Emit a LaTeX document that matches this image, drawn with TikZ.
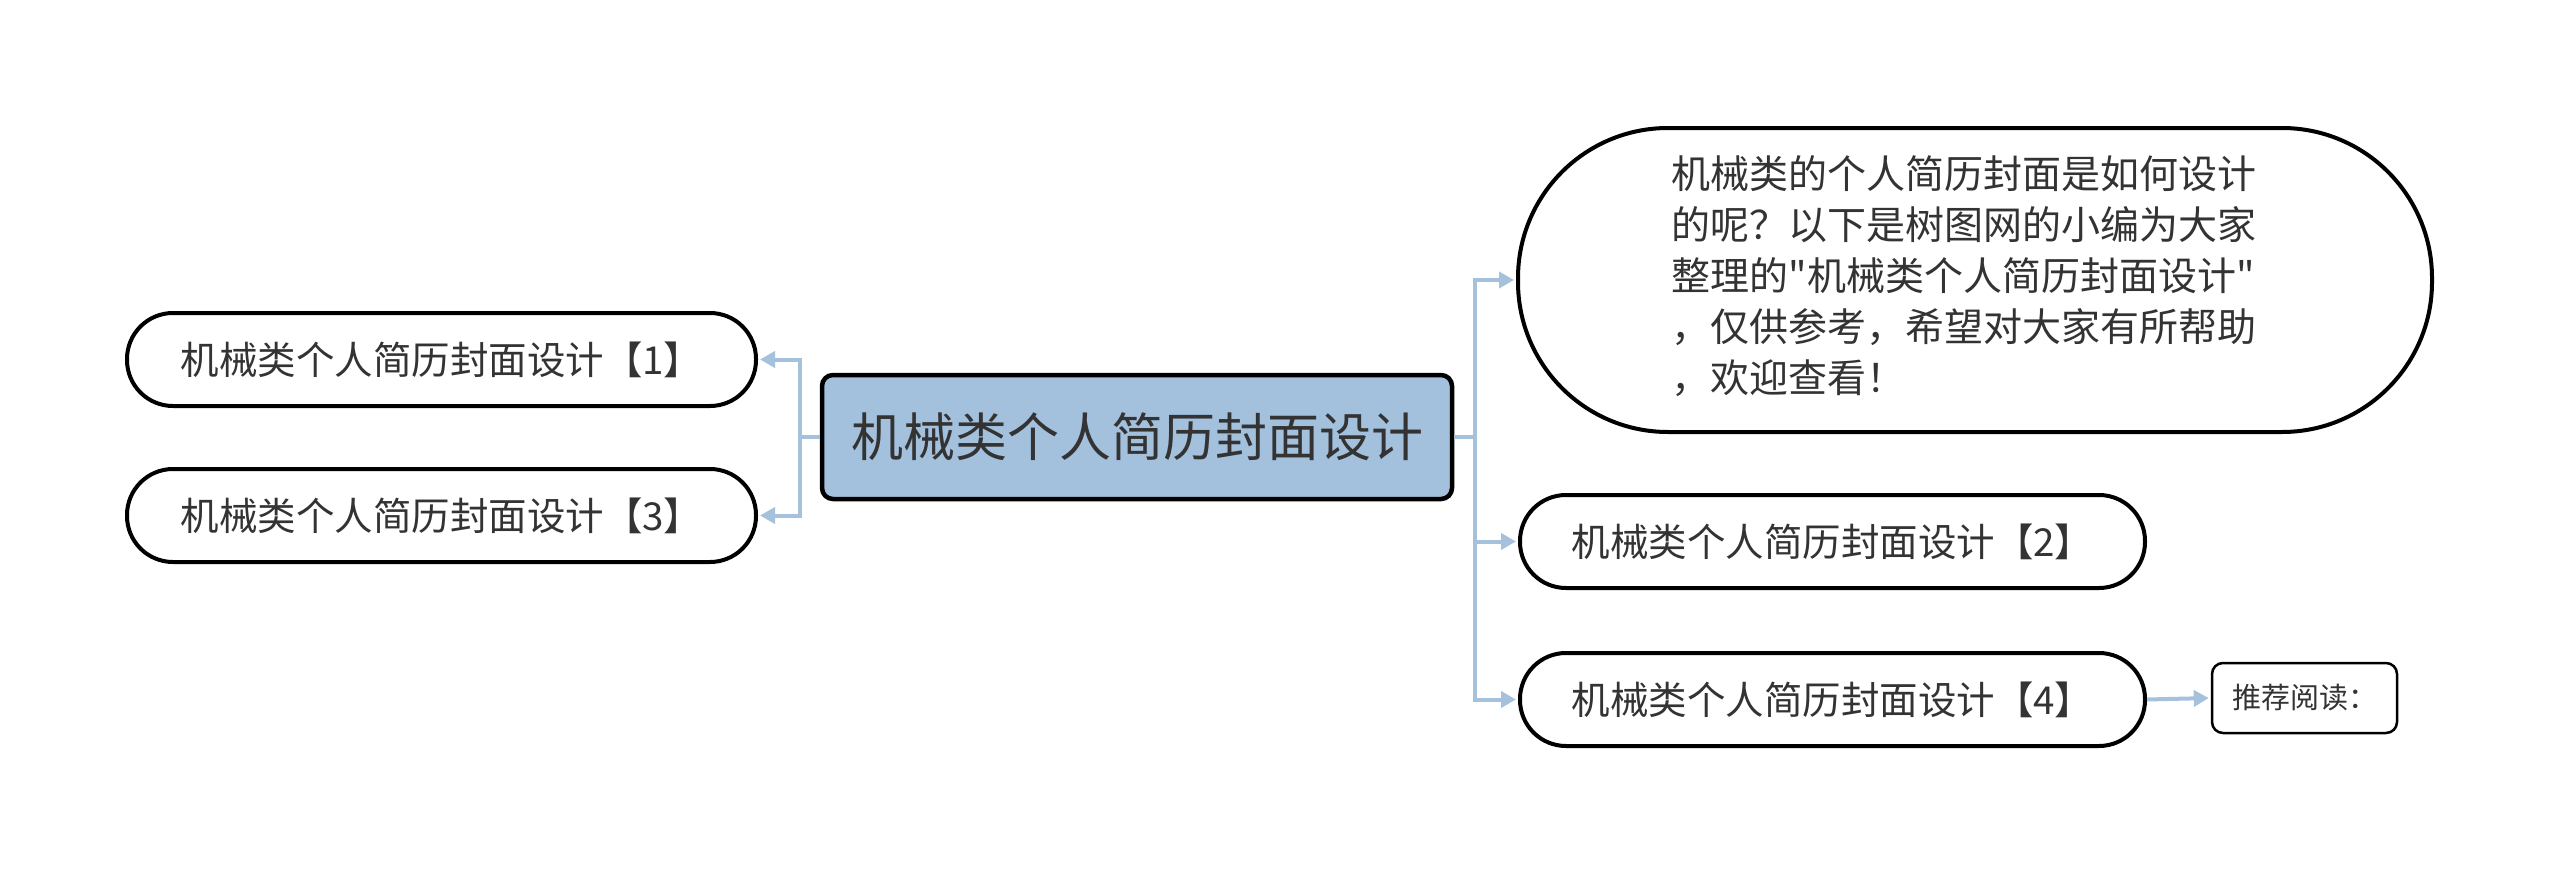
\documentclass[tikz,border=0pt]{standalone}
\usepackage{fontspec}
\newfontfamily\cjkf{Noto Sans CJK SC}
\usetikzlibrary{arrows.meta}
\definecolor{cfill}{HTML}{A3C0DD}
\definecolor{cline}{HTML}{A6C1DB}
\definecolor{ctext}{HTML}{333333}
\tikzset{
  pill/.style={draw=black, line width=4pt, fill=white, rounded corners=46pt,
    minimum width=625pt, minimum height=93pt, inner sep=0pt, text=ctext,
    font=\cjkf\fontsize{38.5}{46}\selectfont},
  rootbox/.style={draw=black, line width=4.5pt, fill=cfill, rounded corners=11pt,
    minimum width=630pt, minimum height=124pt, inner sep=0pt, text=ctext,
    font=\cjkf\fontsize{52}{60}\selectfont},
  bigbubble/.style={draw=black, line width=4pt, fill=white, rounded corners=150pt,
    minimum width=914pt, minimum height=304pt, inner sep=0pt, text=ctext,
    font=\cjkf\fontsize{39}{51}\selectfont},
  smallbox/.style={draw=black, line width=2.5pt, fill=white, rounded corners=11pt,
    minimum width=185pt, minimum height=70pt, inner sep=0pt, text=ctext,
    font=\cjkf\fontsize{29}{34}\selectfont},
  conn/.style={draw=cline, line width=4pt, -{Triangle[length=15pt,width=16pt]}, shorten >=2pt},
}
\begin{document}
\begin{tikzpicture}[x=1pt,y=-1pt]
\useasboundingbox (0,0) rectangle (2560,875);
\node[rootbox] (c) at (1137,437) {机械类个人简历封面设计};
\node[pill, minimum width=629pt] (n1) at (441.5,359.5) {机械类个人简历封面设计【1】};
\node[pill, minimum width=629pt] (n3) at (441.5,515.5) {机械类个人简历封面设计【3】};
\node[bigbubble] (big) at (1975,280) {\hspace*{-22pt}\begin{tabular}{@{}l@{}}机械类的个人简历封面是如何设计\\的呢？以下是树图网的小编为大家\\整理的"机械类个人简历封面设计"\\，仅供参考，希望对大家有所帮助\\，欢迎查看！\end{tabular}};
\node[pill] (n2) at (1832.5,541.5) {机械类个人简历封面设计【2】};
\node[pill] (n4) at (1832.5,699.5) {机械类个人简历封面设计【4】};
\node[smallbox] (s) at (2304.5,698) {推荐阅读：};
\coordinate (lj) at (800,437);
\coordinate (rj) at (1475,437);
\draw[conn] (c.west) -- (lj) |- (n1.east);
\draw[conn] (lj) |- (n3.east);
\draw[conn] (c.east) -- (rj) |- (big.west);
\draw[conn] (rj) |- (n2.west);
\draw[conn] (rj) |- (n4.west);
\draw[conn] (n4.east) -- (s.west);
\end{tikzpicture}
\end{document}
